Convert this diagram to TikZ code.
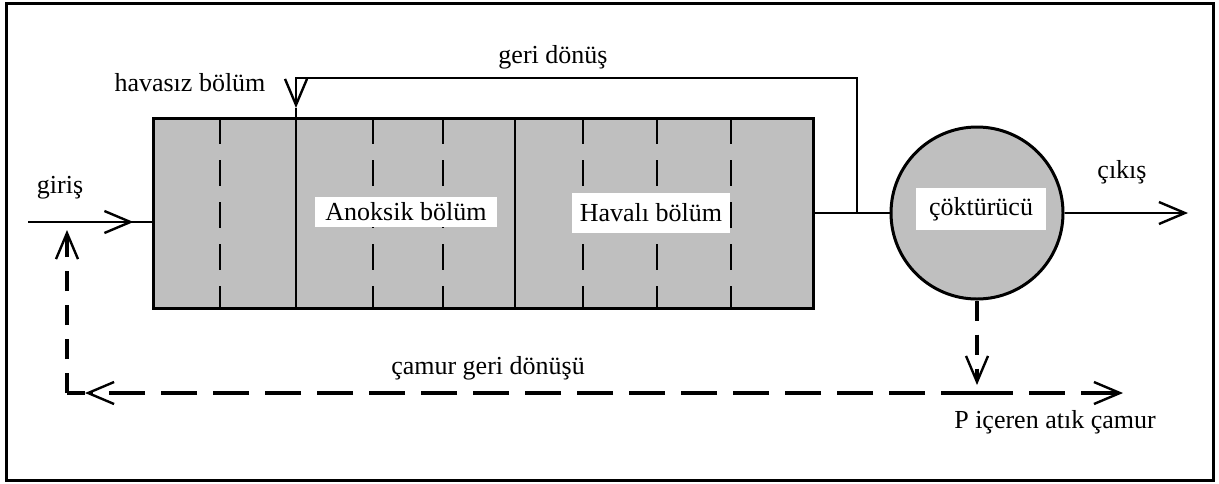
\documentclass[tikz,border=0pt]{standalone}
\usepackage{fontspec}
\setmainfont{Liberation Serif}
\usetikzlibrary{arrows.meta}

\tikzset{
  pipe/.style={line width=1.2pt},
  barb/.style={-{Straight Barb[length=13pt,width=11pt,line width=1.2pt]}},
  sludge/.style={line width=2pt, dash pattern=on 18pt off 8pt},
  sludgedrop/.style={line width=1.8pt, dash pattern=on 10pt off 7pt},
  divider/.style={line width=0.6pt, dash pattern=on 13pt off 8pt},
  labelbox/.style={fill=white, inner sep=0pt},
  basin/.style={draw, line width=1.5pt, fill=gray!50, inner sep=0pt},
}

\begin{document}
\begin{tikzpicture}[x=0.5pt, y=-0.5pt, every node/.style={font=\fontsize{13}{15}\selectfont}]
        \useasboundingbox (0,0) rectangle (1219,483);
        \draw[line width=1.5pt] (6,3) rectangle (1213,480); % outer frame

        \node[basin, minimum width=330pt, minimum height=95pt] (tank) at (483,213) {};
        \node[basin, circle, minimum size=86pt] (clar) at (977,213) {};

        \foreach \x in {220,373,443,583,657,731} % edit here for the dashed walls
        \draw[divider] (\x,118) -- (\x,308);
        \foreach \x in {296,515} % edit here for the solid walls
        \draw[pipe] (\x,118) -- (\x,308);

        \node[labelbox, minimum width=91pt, minimum height=15pt] (anox) at (406,212) {Anoksik bölüm};
        \node[labelbox, minimum width=79pt, minimum height=20pt] (aer) at (651,213) {Havalı bölüm};
        \node[labelbox, minimum width=65pt, minimum height=21pt] (clartxt) at (981,209) {çöktürücü};

        \coordinate (in) at (28,222);
        \coordinate (junction) at (857,213);
        \coordinate (out) at (1188,213);
        \coordinate (retcorner) at (67,393);
        \coordinate (retup) at (67,230);
        \coordinate (wastedrop) at (977,393);
        \coordinate (waste) at (1123,393);

        % feed, effluent and internal recycle
        \draw[pipe] (in) -- (in -| tank.west);
        \draw[pipe,barb] (in) -- ([xshift=-9pt]in -| tank.west);
        \draw[pipe] (tank.east) -- (clar.west);
        \draw[pipe,barb] (clar.east) -- (out);
        \draw[pipe,barb] (junction) |- (296,78) -- (296,108);
        \draw[pipe] (296,108) -- (296,118);

        % sludge lines
        \draw[sludgedrop,barb] (clar.south) -- ([yshift=4pt]wastedrop);
        \draw[sludge,barb] (wastedrop) -- (waste);
        \draw[sludge,barb] (wastedrop) -- ([xshift=9pt]retcorner);
        \draw[sludge] ([xshift=9pt]retcorner) -- (retcorner);
        \draw[sludgedrop,barb] (retcorner) -- (retup);

        \node (giris) at (60,188) {giriş};
        \node (anaer) at (190,83) {havasız bölüm};
        \node (recyc) at (553,57) {geri dönüş};
        \node (cikis) at (1122,172) {çıkış};
        \node (ret) at (488,368) {çamur geri dönüşü};
        \node (was) at (1055,422) {P içeren atık çamur};
\end{tikzpicture}
\end{document}
